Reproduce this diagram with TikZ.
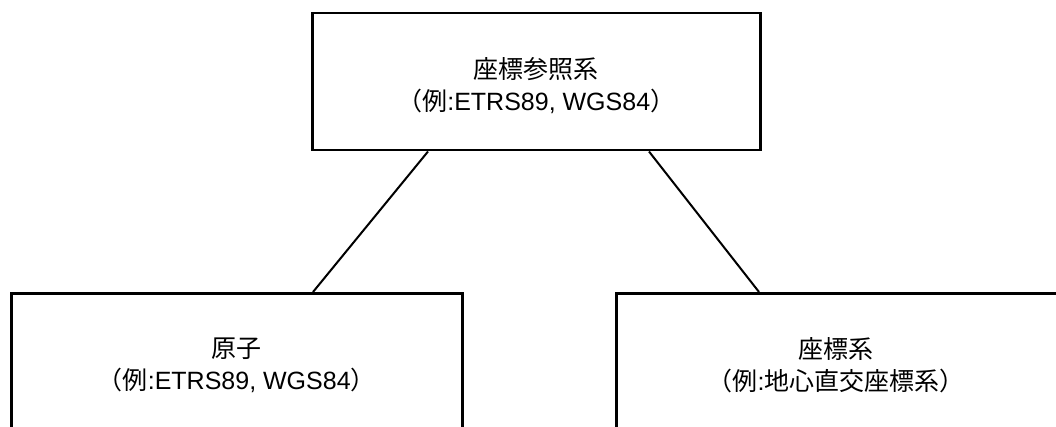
\documentclass[tikz,border=0pt]{standalone}
\usepackage{fontspec}
\setmainfont{Liberation Sans}
\newfontfamily\cjk{Noto Sans CJK JP}
\usetikzlibrary{calc}
\tikzset{
  box/.style={draw=black, line width=2.5pt, fill=none, rectangle, anchor=north west, inner sep=0pt},
  boxtext/.style={align=center, font=\fontsize{25}{32}\selectfont, inner sep=0pt},
  link/.style={draw=black, line width=2pt}
}
\begin{document}
\begin{tikzpicture}[x=1pt,y=-1pt]
\useasboundingbox (0,0) rectangle (1056,427);
\clip (0,0) rectangle (1056,427);
\node[box, minimum width=448pt, minimum height=137pt] (crs) at (311,12) {};
\node[box, minimum width=451pt, minimum height=160pt] (datum) at (10,292) {};
\node[box, minimum width=460pt, minimum height=160pt] (cs) at (615,292) {};
\node[boxtext] (crst) at ($(crs.north)+(0,74)$) {{\cjk 座標参照系}\\{\cjk （例}:ETRS89, WGS84{\cjk ）}};
\node[boxtext] (datumt) at ($(datum.north)+(0,73)$) {{\cjk 原子}\\{\cjk （例}:ETRS89, WGS84{\cjk ）}};
\node[boxtext] (cst) at ($(cs.north west)+(221,73)$) {{\cjk 座標系}\\{\cjk （例}:{\cjk 地心直交座標系）}};
\draw[link] ($(crs.south west)+(117,0)$) -- ($(datum.north west)+(303,0)$);
\draw[link] ($(crs.south west)+(338,0)$) -- ($(cs.north west)+(144,0)$);
\end{tikzpicture}
\end{document}
